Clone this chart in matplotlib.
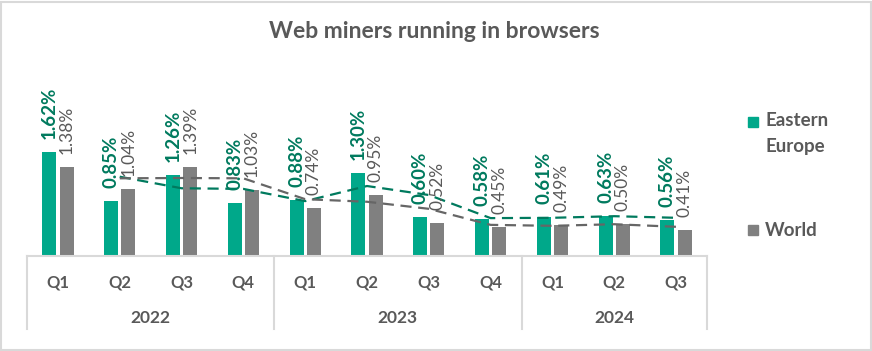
"""Web miners running in browsers: Eastern Europe vs World, quarterly."""
import matplotlib
matplotlib.use("Agg")
import matplotlib.pyplot as plt
import numpy as np

quarters = ["Q1", "Q2", "Q3", "Q4", "Q1", "Q2", "Q3", "Q4", "Q1", "Q2", "Q3"]
years = ["2022", "2023", "2024"]
year_sizes = [4, 4, 3]
eastern_europe = [1.62, 0.85, 1.26, 0.83, 0.88, 1.30, 0.60, 0.58, 0.61, 0.63, 0.56]
world = [1.38, 1.04, 1.39, 1.03, 0.74, 0.95, 0.52, 0.45, 0.49, 0.50, 0.41]

GREEN = "#00A88A"
GREEN_DARK = "#007A5E"
GRAY = "#808080"
TEXT = "#595959"
AXIS = "#D9D9D9"

plt.rcParams["font.family"] = ["Lato", "DejaVu Sans"]

W, H = 872, 351
fig = plt.figure(figsize=(W / 100, H / 100), dpi=100)

# plot area in pixels: x 27..707, baseline at y=256
x0, x1, base, top = 27, 707, 256, 60
ax = fig.add_axes([x0 / W, (H - base) / H, (x1 - x0) / W, (base - top) / H])
px_per_pct = 64.2
ax.set_ylim(0, (base - top) / px_per_pct)
n = len(quarters)
ax.set_xlim(-0.5, n - 0.5)
ax.axis("off")

x = np.arange(n)
bw = 0.226
off = 0.14
ax.bar(x - off, eastern_europe, bw, color=GREEN, zorder=2)
ax.bar(x + off, world, bw, color=GRAY, zorder=2)

# 2-period moving average trendlines
ee_ma = np.convolve(eastern_europe, [0.5, 0.5], mode="valid")
w_ma = np.convolve(world, [0.5, 0.5], mode="valid")
ax.plot(x[1:], ee_ma, color=GREEN_DARK, lw=1.6, ls=(0, (5, 3)), zorder=3)
ax.plot(x[1:], w_ma, color="#666666", lw=1.6, ls=(0, (5, 3)), zorder=3)

pad = 13 / px_per_pct
for i in range(n):
    ax.text(x[i] - off, eastern_europe[i] + pad, f"{eastern_europe[i]:.2f}%",
            rotation=90, ha="center", va="bottom", fontsize=13.5,
            fontweight="bold", color=GREEN_DARK, clip_on=False, zorder=4)
    ax.text(x[i] + off, world[i] + pad, f"{world[i]:.2f}%",
            rotation=90, ha="center", va="bottom", fontsize=12.5,
            color=TEXT, clip_on=False, zorder=4)


# multi-level category axis drawn in figure pixels
def fx(px):
    return px / W


def fy(py):
    return (H - py) / H


cat_w = (x1 - x0) / n
fig.add_artist(plt.Line2D([fx(x0), fx(x1)], [fy(base), fy(base)],
                          color=AXIS, lw=1.5))
edges = [0]
for s in year_sizes:
    edges.append(edges[-1] + s)
for e in edges:
    xp = x0 + e * cat_w
    fig.add_artist(plt.Line2D([fx(xp), fx(xp)], [fy(base), fy(329)],
                              color=AXIS, lw=1.5))
for i, q in enumerate(quarters):
    fig.text(fx(x0 + (i + 0.5) * cat_w), fy(282), q, ha="center", va="center",
             fontsize=12, fontweight="bold", color=TEXT)
for j, yr in enumerate(years):
    mid = (edges[j] + edges[j + 1]) / 2
    fig.text(fx(x0 + mid * cat_w), fy(318), yr, ha="center", va="center",
             fontsize=12.5, fontweight="bold", color=TEXT)

fig.text(fx(434), fy(32), "Web miners running in browsers", ha="center",
         va="center", fontsize=16.5, fontweight="bold", color=TEXT)

# legend
fig.patches.append(plt.Rectangle((fx(748), fy(127)), 10 / W, 10 / H,
                                 color=GREEN, transform=fig.transFigure))
fig.text(fx(765), fy(120), "Eastern", ha="left", va="center",
         fontsize=13.5, fontweight="bold", color=TEXT)
fig.text(fx(765), fy(147), "Europe", ha="left", va="center",
         fontsize=13.5, fontweight="bold", color=TEXT)
fig.patches.append(plt.Rectangle((fx(748), fy(235)), 10 / W, 10 / H,
                                 color=GRAY, transform=fig.transFigure))
fig.text(fx(765), fy(230), "World", ha="left", va="center",
         fontsize=13.5, fontweight="bold", color=TEXT)

# outer border
fig.patches.append(plt.Rectangle((0.5 / W, 1.5 / H), (W - 2) / W, (H - 3) / H,
                                 fill=False, ec=AXIS, lw=1.5,
                                 transform=fig.transFigure))

fig.savefig("out.png", dpi=100)
